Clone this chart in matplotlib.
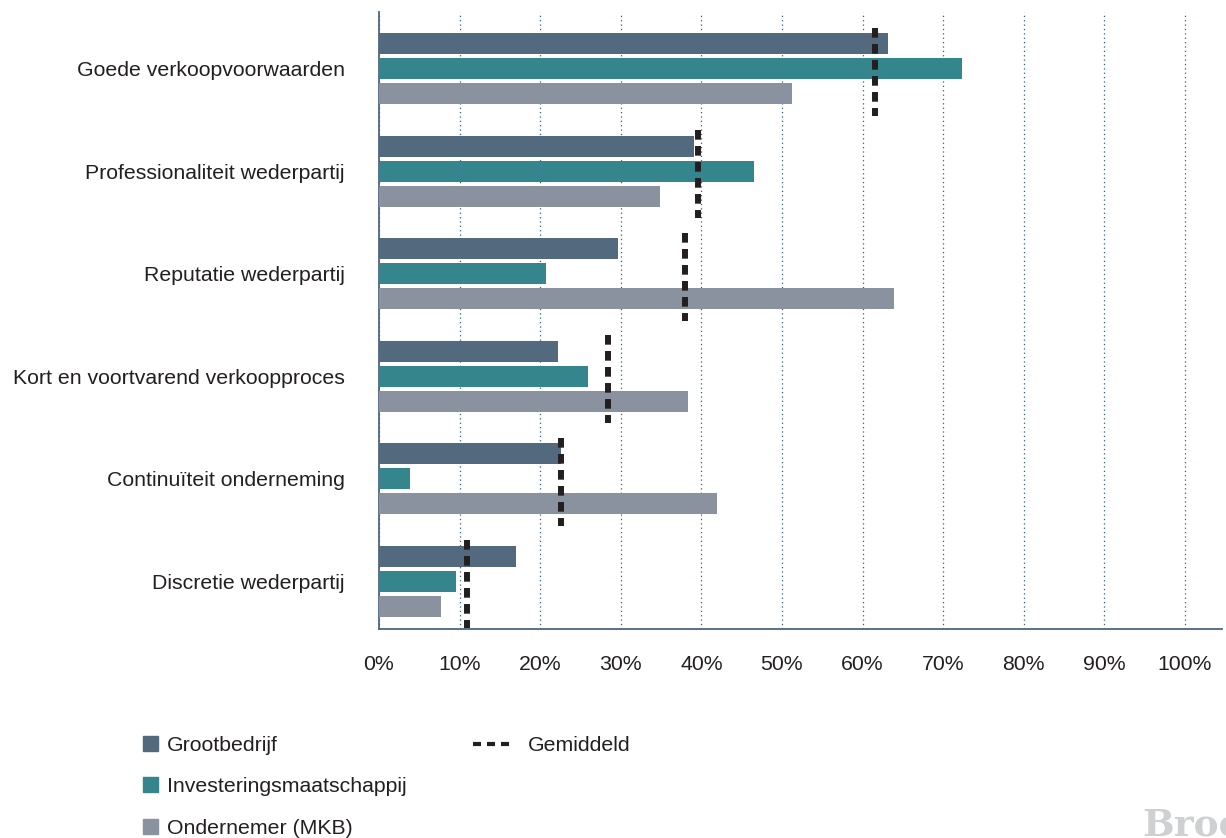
import numpy as np
import matplotlib
matplotlib.use("Agg")
import matplotlib.pyplot as plt
from matplotlib.patches import Patch
from matplotlib.lines import Line2D

plt.rcParams['font.family'] = ['Liberation Sans', 'DejaVu Sans']

categories = ["Goede verkoopvoorwaarden", "Professionaliteit wederpartij",
              "Reputatie wederpartij", "Kort en voortvarend verkoopproces",
              "Continuïteit onderneming", "Discretie wederpartij"]
series_names = ["Grootbedrijf", "Investeringsmaatschappij", "Ondernemer (MKB)"]
grootbedrijf = [63.1, 39.1, 29.7, 22.2, 22.6, 17.0]
investering = [72.4, 46.5, 20.7, 25.9, 3.8, 9.6]
ondernemer = [51.2, 34.9, 63.9, 38.3, 41.9, 7.7]
gemiddeld = [61.5, 39.6, 38.0, 28.4, 22.6, 10.9]
xticks = np.arange(0, 101, 10)
xticklabels = [f"{t}%" for t in xticks]

colors = ["#52697e", "#35868c", "#8a92a0"]
txt = "#231f20"
fs = 15.3

fig = plt.figure(figsize=(12.26, 8.38), dpi=100)
ax = fig.add_axes([379/1226, 1-629/838, (1222-379)/1226, (629-12)/838])

y = np.arange(len(categories))
offs = [-0.245, 0.0, 0.245]
for vals, c, o, name in zip([grootbedrijf, investering, ondernemer], colors, offs, series_names):
    ax.barh(y + o, vals, height=0.205, color=c, zorder=3, label=name)

# average markers
for i, g in enumerate(gemiddeld):
    ax.plot([g, g], [i - 0.40, i + 0.46], color=txt, lw=4.3,
            dashes=(1.62, 1.06), solid_capstyle='butt', dash_capstyle='butt', zorder=4)

ax.set_xlim(0, 104.6)
ax.set_ylim(5.467, -0.555)
ax.set_xticks(xticks)
ax.set_xticklabels(xticklabels)
ax.set_yticks(y)
ax.set_yticklabels(categories)
ax.tick_params(axis='both', length=0, labelsize=fs, colors=txt)
ax.tick_params(axis='x', pad=19)
ax.tick_params(axis='y', pad=24.5)
ax.xaxis.grid(True, color="#2f5f7f", lw=0.9, linestyle=(0, (1, 2.5)), zorder=1)
for s in ['top', 'right']:
    ax.spines[s].set_visible(False)
for s in ['left', 'bottom']:
    ax.spines[s].set_color("#4d6680")
    ax.spines[s].set_linewidth(1.3)

h1 = [Patch(color=c) for c in colors]
leg1 = fig.legend(h1, series_names, loc='upper left', bbox_to_anchor=(143/1226, 1-736/838),
                  frameon=False, fontsize=fs, handlelength=0.7, handleheight=0.7,
                  handletextpad=0.42, labelspacing=1.05, borderpad=0, borderaxespad=0,
                  labelcolor=txt)
h2 = [Line2D([], [], color=txt, lw=3, dashes=(1.92, 1.44), solid_capstyle='butt', dash_capstyle='butt')]
leg2 = fig.legend(h2, ["Gemiddeld"], loc='upper left', bbox_to_anchor=(473/1226, 1-736/838),
                  frameon=False, fontsize=fs, handlelength=1.69, handletextpad=0.9,
                  borderpad=0, borderaxespad=0, labelcolor=txt)

fig.text(1142/1226, 3/838, "Brookz", fontsize=27, fontweight='bold', family='DejaVu Serif',
         color="#cfd0d2", ha='left', va='baseline')

fig.savefig("out.png", dpi=100)
